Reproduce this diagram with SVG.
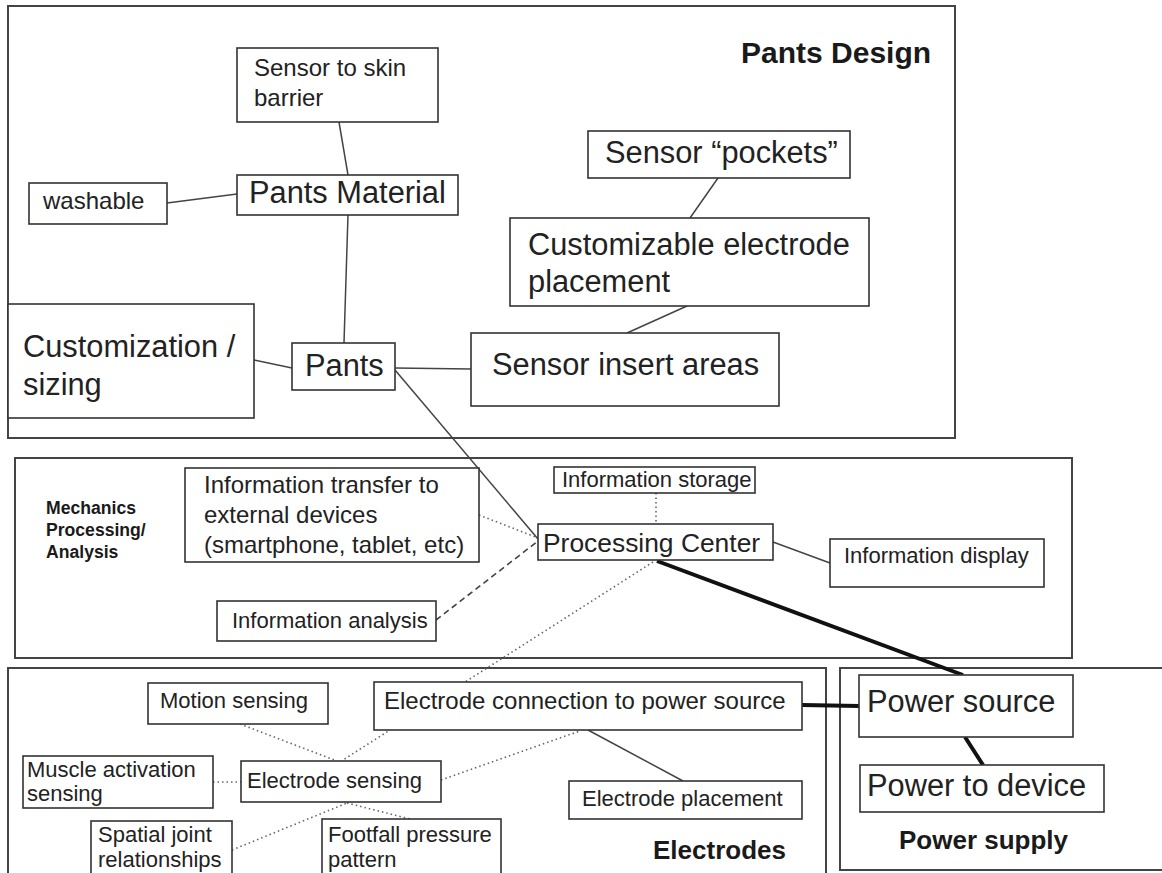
<svg xmlns="http://www.w3.org/2000/svg" width="1162" height="873" viewBox="0 0 1162 873">
<style>
.frame{fill:none;stroke:#444;stroke-width:2}
.box{fill:#fff;stroke:#333;stroke-width:1.6}
.t{font-family:"Liberation Sans",Arial,sans-serif;fill:#222}
.big{font-size:30.8px}
.mid{font-size:24px}
.sm{font-size:22px}
.pc{font-size:26.4px}
.title{font-family:"Liberation Sans",Arial,sans-serif;font-weight:bold;fill:#1a1a1a}
.solid{stroke:#444;stroke-width:1.5;fill:none}
.dot{stroke:#666;stroke-width:1.6;stroke-dasharray:1.5 3;fill:none}
.dash{stroke:#444;stroke-width:1.6;stroke-dasharray:6 4;fill:none}
.thick{stroke:#111;stroke-width:4;fill:none}
</style>
<rect width="1162" height="873" fill="#fff"/>
<g id="frames">
<rect class="frame" x="8" y="6" width="947" height="432"/>
<rect class="frame" x="15" y="458" width="1057" height="200"/>
<rect class="frame" x="8" y="668" width="818" height="220"/>
<rect class="frame" x="840" y="668" width="340" height="202"/>
<text class="title" x="741" y="63" font-size="30px">Pants Design</text>
<text class="title" font-size="17.6px"><tspan x="46" y="514">Mechanics</tspan><tspan x="46" y="536">Processing/</tspan><tspan x="46" y="558">Analysis</tspan></text>
<text class="title" x="653" y="859" font-size="26px">Electrodes</text>
<text class="title" x="899" y="849" font-size="26px">Power supply</text>
</g>
<g id="connectors">
<line class="solid" x1="339" y1="122" x2="348" y2="175"/>
<line class="solid" x1="167" y1="203" x2="237" y2="194"/>
<line class="solid" x1="348" y1="215" x2="344" y2="343"/>
<line class="solid" x1="254" y1="360" x2="292" y2="368"/>
<line class="solid" x1="395" y1="368" x2="471" y2="369"/>
<line class="solid" x1="718" y1="178" x2="690" y2="218"/>
<line class="solid" x1="687" y1="306" x2="627" y2="333"/>
<line class="solid" x1="395" y1="370" x2="538" y2="539"/>
<line class="dot" x1="656" y1="493" x2="656" y2="524"/>
<line class="dot" x1="479" y1="515" x2="538" y2="538"/>
<line class="dash" x1="436" y1="620" x2="538" y2="541"/>
<line class="solid" x1="773" y1="542" x2="830" y2="563"/>
<line class="thick" x1="657" y1="561" x2="963" y2="675"/>
<line class="dot" x1="653" y1="562" x2="343" y2="760"/>
<line class="dot" x1="240" y1="724" x2="337" y2="761"/>
<line class="dot" x1="213" y1="782" x2="241" y2="782"/>
<line class="dot" x1="232" y1="850" x2="347" y2="803"/>
<line class="dot" x1="347" y1="803" x2="410" y2="819"/>
<line class="dot" x1="441" y1="780" x2="580" y2="731"/>
<line class="solid" x1="588" y1="730" x2="683" y2="781"/>
<line class="thick" x1="802" y1="705" x2="859" y2="706"/>
<line class="thick" x1="965" y1="737" x2="983" y2="765"/>
</g>
<g id="sensor-skin"><rect class="box" x="237" y="48" width="201" height="74"/><text class="t mid"><tspan x="254" y="76">Sensor to skin</tspan><tspan x="254" y="106">barrier</tspan></text></g>
<g id="washable"><rect class="box" x="29" y="183" width="138" height="41"/><text class="t mid" x="43" y="209">washable</text></g>
<g id="pants-material"><rect class="box" x="237" y="175" width="221" height="40"/><text class="t big" x="249" y="203">Pants Material</text></g>
<g id="customization"><rect class="box" x="8" y="304" width="246" height="114"/><text class="t big"><tspan x="23" y="357">Customization /</tspan><tspan x="23" y="395">sizing</tspan></text></g>
<g id="pants"><rect class="box" x="292" y="343" width="103" height="47"/><text class="t big" x="305" y="376">Pants</text></g>
<g id="sensor-pockets"><rect class="box" x="588" y="131" width="262" height="47"/><text class="t big" x="605" y="163">Sensor “pockets”</text></g>
<g id="custom-electrode"><rect class="box" x="510" y="218" width="359" height="88"/><text class="t big"><tspan x="528" y="255">Customizable electrode</tspan><tspan x="528" y="292">placement</tspan></text></g>
<g id="sensor-insert"><rect class="box" x="471" y="333" width="308" height="73"/><text class="t big" x="492" y="375">Sensor insert areas</text></g>
<g id="info-transfer"><rect class="box" x="185" y="468" width="294" height="94"/><text class="t mid"><tspan x="204" y="493">Information transfer to</tspan><tspan x="204" y="523">external devices</tspan><tspan x="204" y="553">(smartphone, tablet, etc)</tspan></text></g>
<g id="info-analysis"><rect class="box" x="217" y="601" width="219" height="40"/><text class="t sm" x="232" y="628">Information analysis</text></g>
<g id="info-storage"><rect class="box" x="554" y="467" width="201" height="26"/><text class="t sm" x="562" y="487">Information storage</text></g>
<g id="processing"><rect class="box" x="538" y="524" width="235" height="36"/><text class="t pc" x="543" y="552">Processing Center</text></g>
<g id="info-display"><rect class="box" x="830" y="539" width="214" height="48"/><text class="t sm" x="844" y="563">Information display</text></g>
<g id="motion"><rect class="box" x="148" y="683" width="180" height="41"/><text class="t sm" x="160" y="708">Motion sensing</text></g>
<g id="electrode-conn"><rect class="box" x="374" y="682" width="428" height="48"/><text class="t mid" x="384" y="709">Electrode connection to power source</text></g>
<g id="muscle"><rect class="box" x="23" y="756" width="190" height="52"/><text class="t sm"><tspan x="27" y="777">Muscle activation</tspan><tspan x="27" y="801">sensing</tspan></text></g>
<g id="electrode-sensing"><rect class="box" x="241" y="761" width="200" height="41"/><text class="t sm" x="247" y="788">Electrode sensing</text></g>
<g id="electrode-placement"><rect class="box" x="569" y="781" width="233" height="38"/><text class="t sm" x="582" y="806">Electrode placement</text></g>
<g id="spatial"><rect class="box" x="91" y="821" width="141" height="70"/><text class="t sm"><tspan x="98" y="842">Spatial joint</tspan><tspan x="98" y="867">relationships</tspan></text></g>
<g id="footfall"><rect class="box" x="322" y="819" width="179" height="70"/><text class="t sm"><tspan x="328" y="842">Footfall pressure</tspan><tspan x="328" y="867">pattern</tspan></text></g>
<g id="power-source"><rect class="box" x="859" y="675" width="214" height="62"/><text class="t big" x="867" y="712">Power source</text></g>
<g id="power-device"><rect class="box" x="860" y="765" width="244" height="47"/><text class="t big" x="867" y="796">Power to device</text></g>
</svg>
